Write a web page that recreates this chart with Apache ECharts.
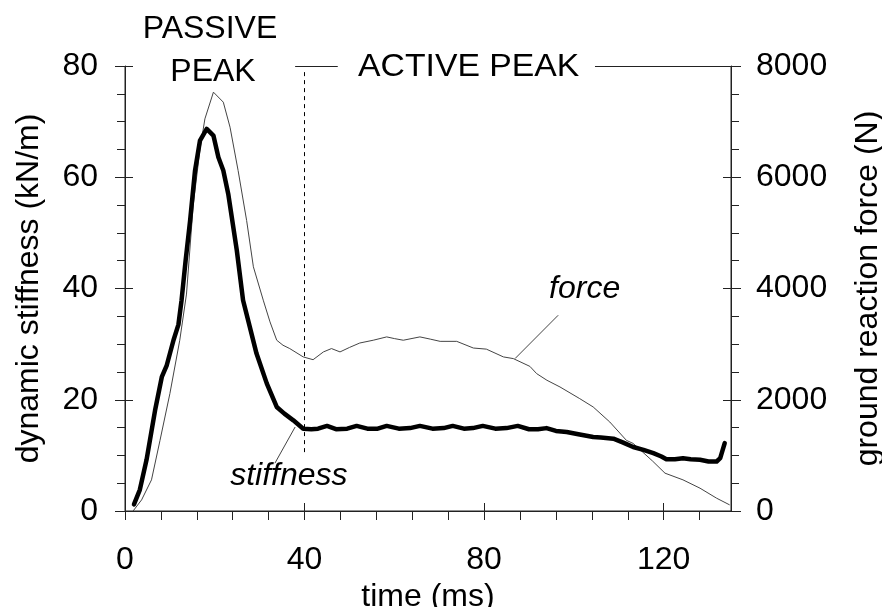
<!DOCTYPE html>
<html>
<head>
<meta charset="utf-8">
<script src="https://cdn.jsdelivr.net/npm/echarts@6/dist/echarts.min.js"></script>
<style>
html,body{margin:0;padding:0;background:#fff;}
#chart{width:882px;height:607px;}
</style>
</head>
<body>
<div id="chart"></div>
<script>
// ---- data ----
const stiffTime = [2.0,3.3,4.8,6.7,8.2,9.3,10.8,11.9,12.6,13.5,14.5,15.6,16.7,18.2,19.7,20.8,21.9,23.0,24.9,26.3,27.8,29.3,31.6,33.8,35.5,37.5,39.7,
  41.5,43,45,47,49.5,51.6,54,56.3,58.3,61,63.5,65.7,68.5,71,73,75.5,77.5,79.7,82.5,85,87.5,90,92,93.9,96,98.4,101,104.3,106,108.8,111,113.2,115.5,117.7,119.5,120.6,122.5,124.3,126,128.1,130,131.8,132.6,133.6];
const stiffValue = [1.2,3.8,9.2,18.1,24.1,26.2,30.7,33.5,37.9,45,52.2,61.2,66.6,68.7,67.5,63.6,61.2,57.0,46.9,37.9,33.1,28.3,22.9,18.7,17.5,16.3,14.8,
  14.7,14.8,15.3,14.7,14.8,15.3,14.8,14.8,15.3,14.8,14.9,15.3,14.8,14.9,15.3,14.8,14.9,15.3,14.8,14.9,15.3,14.7,14.7,14.9,14.4,14.2,13.8,13.3,13.2,13.0,12.3,11.5,11.0,10.4,9.8,9.3,9.3,9.5,9.3,9.2,8.9,8.9,9.5,12.2];

const forceTime = [1.8,3.7,5.9,7.8,10.0,12.2,13.7,15.2,16.7,17.8,19.7,21.9,23.4,25.2,27.1,28.6,30.8,32.3,33.8,35.2,36.7,39.7,41.9,44.2,46.0,47.9,50,52.3,55.3,58.3,60,62.0,65.7,68,70.2,73.9,77.6,80.5,84.3,86.5,90.2,91.7,94,96.9,101.3,104.3,108.0,111.7,113.2,117.5,120.3,124.3,128.1,131.8,134.7];
const forceValue = [0,200,560,1270,2110,3070,3900,5500,6500,7050,7530,7350,6900,6120,5220,4390,3790,3400,3070,2980,2920,2770,2720,2860,2920,2860,2940,3020,3070,3130,3100,3070,3130,3090,3050,3050,2930,2910,2770,2740,2600,2470,2350,2230,2020,1870,1600,1270,1215,900,680,560,410,230,110];

const xTickLabels = [0,40,80,120];
const xMinorTicks = [0,8,16,24,32,40,48,56,64,72,80,88,96,104,112,120,128];
const yLeftTicks = [0,20,40,60,80];
const yRightTicks = [0,2000,4000,6000,8000];
const xRange = [0,135];
const yLeftRange = [0,80];

const FONT = '"Liberation Sans", Arial, sans-serif';
const FS = 32;
const AX = '#222';

const stiffData = stiffTime.map((t,i)=>[t, stiffValue[i]]);
const forceData = forceTime.map((t,i)=>[t, forceValue[i]]);
const frameData = [[xRange[0],yLeftRange[1]],[xRange[0],yLeftRange[0]],[xRange[1],yLeftRange[0]],[xRange[1],yLeftRange[1]]];

const chart = echarts.init(document.getElementById('chart'), null, {renderer:'canvas'});

const labelStyle = {color:'#000', fontSize:FS, fontFamily:FONT};
const nameStyle = {color:'#000', fontSize:FS, fontFamily:FONT};
const plain = v => String(v);
const seg = (a, b) => [{coord:a, lineStyle:{type:'solid', color:AX, width:1}}, {coord:b}];

const option = {
  animation:false,
  backgroundColor:'#fff',
  grid:{left:125, right:151, top:66, bottom:96, containLabel:false, outerBoundsMode:'none'},
  xAxis:[
    {type:'value', min:xRange[0], max:xRange[1], position:'bottom',
     axisLine:{show:true, onZero:false, lineStyle:{color:AX, width:1}},
     axisTick:{show:true, customValues:xMinorTicks, length:9, lineStyle:{color:AX}},
     axisLabel:{show:true, customValues:xTickLabels, margin:33, formatter:plain, ...labelStyle},
     splitLine:{show:false},
     name:'time (ms)', nameLocation:'middle', nameGap:59, nameTextStyle:nameStyle},
    {type:'value', min:xRange[0], max:xRange[1], position:'bottom',
     axisLine:{show:false, onZero:false},
     axisTick:{show:true, customValues:xTickLabels, inside:true, length:8, lineStyle:{color:AX}},
     axisLabel:{show:false}, splitLine:{show:false}}
  ],
  yAxis:[
    {type:'value', min:0, max:80, interval:20, position:'left',
     axisLine:{show:true, onZero:false, lineStyle:{color:AX, width:1}},
     axisTick:{show:true, length:10, lineStyle:{color:AX}},
     minorTick:{show:true, splitNumber:4, length:8, lineStyle:{color:AX}},
     axisLabel:{show:true, margin:27, customValues:yLeftTicks, formatter:plain, ...labelStyle},
     splitLine:{show:false},
     name:'dynamic stiffness (kN/m)', nameLocation:'middle', nameGap:80, nameTextStyle:nameStyle},
    {type:'value', min:0, max:8000, interval:2000, position:'right',
     axisLine:{show:true, onZero:false, lineStyle:{color:AX, width:1}},
     axisTick:{show:true, length:10, lineStyle:{color:AX}},
     minorTick:{show:true, splitNumber:4, length:8, lineStyle:{color:AX}},
     axisLabel:{show:true, margin:25, customValues:yRightTicks, formatter:plain, ...labelStyle},
     splitLine:{show:false},
     name:'ground reaction force (N)', nameLocation:'middle', nameGap:121, nameTextStyle:nameStyle},
    {type:'value', min:0, max:80, interval:20, position:'left',
     axisLine:{show:false, onZero:false}, axisTick:{show:true, inside:true, length:8, lineStyle:{color:AX}},
     axisLabel:{show:false}, splitLine:{show:false}},
    {type:'value', min:0, max:8000, interval:2000, position:'right',
     axisLine:{show:false, onZero:false}, axisTick:{show:true, inside:true, length:8, lineStyle:{color:AX}},
     axisLabel:{show:false}, splitLine:{show:false}}
  ],
  series:[
    {name:'frame', type:'line', xAxisIndex:0, yAxisIndex:0, data:frameData,
     showSymbol:false, symbol:'none', smooth:false, clip:false, silent:true, z:1,
     lineStyle:{color:AX, width:1, join:'miter'}},
    {name:'force', type:'line', xAxisIndex:0, yAxisIndex:1, data:forceData,
     showSymbol:false, symbol:'none', smooth:false, clip:false,
     lineStyle:{color:'#444', width:1},
     markLine:{silent:true, symbol:'none', label:{show:false},
       lineStyle:{color:'#444', width:1, type:'solid'},
       data:[[{coord:[86.9,2741]},{coord:[96.5,3519]}]]}
    },
    {name:'stiffness', type:'line', xAxisIndex:0, yAxisIndex:0, data:stiffData,
     showSymbol:false, symbol:'none', smooth:false, clip:false,
     lineStyle:{color:'#000', width:4.5, join:'round', cap:'round'},
     markLine:{silent:true, symbol:'none', label:{show:false},
       data:[
         [{coord:[40,78.9], lineStyle:{type:[4,4], color:'#000', width:1}},{coord:[40,10.4]}],
         [{coord:[37.9,15.1], lineStyle:{type:'solid', color:'#444', width:1}},{coord:[33.4,8.6]}],
         seg([37.9,80],[47.4,80]),
         seg([104.7,80],[135,80])
       ]}
    }
  ]
};
chart.setOption(option);

// axis frame (left, bottom, right) as thin filled bars positioned from the axis scales
const P = (t, v) => chart.convertToPixel({xAxisIndex:0, yAxisIndex:0}, [t, v]);
const p00 = P(0, 0), p080 = P(0, 80), p1350 = P(135, 0);
const L = Math.round(p00[0]), R = Math.round(p1350[0]), B = Math.round(p00[1]), T = Math.round(p080[1]);
const bar = (x, y, w, h) => ({type:'rect', z:1000, zlevel:1, silent:true,
  shape:{x:x, y:y, width:w, height:h}, style:{fill:AX, stroke:null}});

const pS = chart.convertToPixel({xAxisIndex:0, yAxisIndex:0}, [36.5, 6.3]);
const pF = chart.convertToPixel({xAxisIndex:0, yAxisIndex:1}, [102.4, 3986]);
const txt = (x,y,text,align,italic,sx)=>({type:'text', x:x, y:y, z:100, scaleX:sx||1,
  style:{text:text, fill:'#000', align:align, verticalAlign:'middle',
         font:(italic?'italic ':'')+FS+'px '+FONT}});
chart.setOption({graphic:[
  bar(L, T, 1, B - T + 1),
  bar(R, T, 1, B - T + 1),
  bar(L, B, R - L + 1, 1),
  txt(210, 29, 'PASSIVE', 'center', false),
  txt(213, 72, 'PEAK', 'center', false),
  txt(358, 67, 'ACTIVE PEAK', 'left', false, 1.055),
  txt(pS[0], pS[1], 'stiffness', 'center', true),
  txt(pF[0], pF[1], 'force', 'center', true)
]});
</script>
</body>
</html>
